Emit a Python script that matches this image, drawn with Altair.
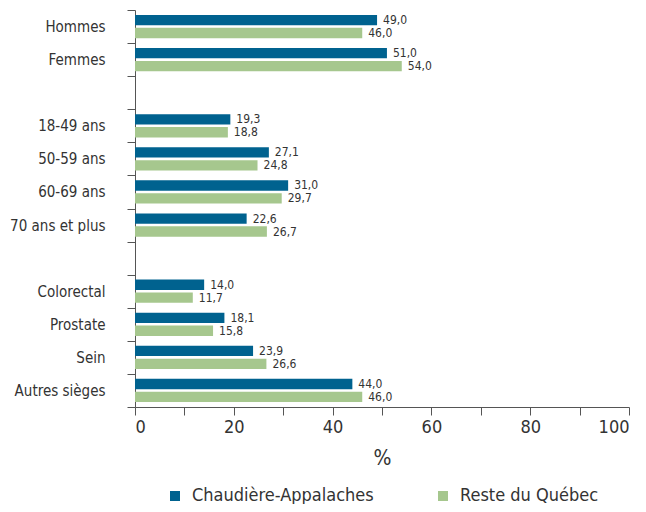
import altair as alt
import pandas as pd

categories = ["Hommes", "Femmes", "18-49 ans", "50-59 ans", "60-69 ans", "70 ans et plus",
              "Colorectal", "Prostate", "Sein", "Autres sièges"]
domain_order = ["Hommes", "Femmes", " ", "18-49 ans", "50-59 ans", "60-69 ans", "70 ans et plus",
                "  ", "Colorectal", "Prostate", "Sein", "Autres sièges"]
series = ["Chaudière-Appalaches", "Reste du Québec"]
chaudiere = [49.0, 51.0, 19.3, 27.1, 31.0, 22.6, 14.0, 18.1, 23.9, 44.0]
reste = [46.0, 54.0, 18.8, 24.8, 29.7, 26.7, 11.7, 15.8, 26.6, 46.0]
colors = ["#00628F", "#A6C78E"]

rows = []
for c, a, b in zip(categories, chaudiere, reste):
    rows.append({"cat": c, "serie": series[0], "val": a})
    rows.append({"cat": c, "serie": series[1], "val": b})
df = pd.DataFrame(rows)

FONT = "DejaVu Sans Condensed, Roboto, sans-serif"
TXT = "#333333"

y_enc = alt.Y("cat:N", scale=alt.Scale(domain=domain_order, paddingInner=0, paddingOuter=0),
              axis=alt.Axis(title=None, tickBand="extent", tickSize=8, labelPadding=22,
                            labelFontSize=15, labelFont=FONT, labelColor=TXT, labelLimit=200,
                            domainColor="#555555", tickColor="#555555"))
yoff = alt.YOffset("serie:N", scale=alt.Scale(domain=series, paddingInner=0.2, paddingOuter=0.38))

base = alt.Chart(df)

bars = base.mark_bar().encode(
    x=alt.X("val:Q", scale=alt.Scale(domain=[0, 100], nice=False),
            axis=alt.Axis(values=list(range(0, 101, 10)), grid=False, tickSize=8,
                          labelExpr="datum.value % 20 == 0 ? datum.label : ''",
                          labelFontSize=18, labelFont=FONT, labelColor=TXT, labelPadding=3,
                          title="%", titleFontSize=21, titleFont=FONT, titleColor=TXT,
                          titleFontWeight="normal", titlePadding=11,
                          domainColor="#555555", tickColor="#555555")),
    y=y_enc,
    yOffset=yoff,
    color=alt.Color("serie:N", scale=alt.Scale(domain=series, range=colors),
                    legend=alt.Legend(title=None, orient="none", direction="horizontal",
                                      legendX=31, legendY=477, symbolType="square",
                                      symbolSize=100, symbolStrokeWidth=0, labelFontSize=18,
                                      labelFont=FONT, labelColor=TXT, labelOffset=8,
                                      labelLimit=300, columnPadding=60)),
)

labels = base.transform_calculate(
    lab="replace(format(datum.val, '.1f'), '.', ',')"
).mark_text(align="left", baseline="middle", dx=6, fontSize=12, font=FONT, color=TXT).encode(
    x="val:Q",
    y=alt.Y("cat:N", scale=alt.Scale(domain=domain_order, paddingInner=0, paddingOuter=0)),
    yOffset=yoff,
    text="lab:N",
)

chart = alt.layer(bars, labels).properties(
    width=494, height=397,
    autosize=alt.AutoSizeParams(type="none"),
    padding={"left": 127, "top": 2, "right": 9, "bottom": 97},
).configure_view(stroke=None)

chart.save("out.html", embed_options={"renderer": "svg", "actions": False})
